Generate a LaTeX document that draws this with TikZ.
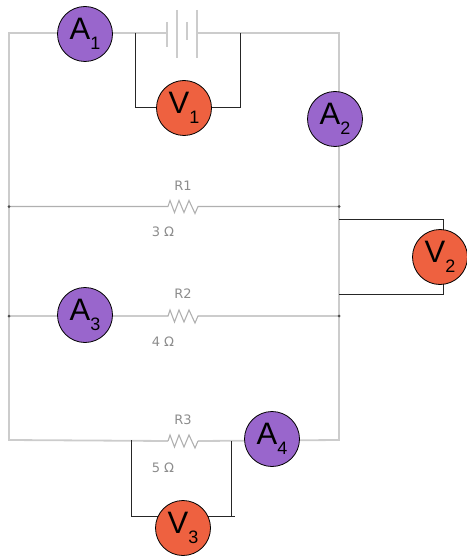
\documentclass[tikz,border=0pt]{standalone}
\usepackage{fontspec}
\usetikzlibrary{backgrounds}
\setmainfont{Liberation Sans}
\newfontfamily\labelfont{DejaVu Sans}
\definecolor{ampfill}{HTML}{9966CC}
\definecolor{voltfill}{HTML}{EE6140}
\definecolor{outerwire}{HTML}{CCCCCC}
\definecolor{branchwire}{HTML}{B0B0B0}
\definecolor{labelgray}{HTML}{8C8C8C}
\newcommand{\meterlabel}[2]{{\fontsize{31}{31}\selectfont #1}\raisebox{-10pt}{\fontsize{18}{18}\selectfont #2}}
\tikzset{
  x=1pt,y=-1pt,
  meterbase/.style={circle,draw=black,line width=0.8pt,minimum size=55pt,inner sep=0pt,text=black},
  ammeter/.style={meterbase,fill=ampfill},
  voltmeter/.style={meterbase,fill=voltfill},
  outer/.style={draw=outerwire,line width=1.8pt,line join=miter},
  branch/.style={draw=branchwire,line width=1.1pt},
  probe/.style={draw=black!85,line width=1pt,line join=miter},
  plate/.style={draw=outerwire,line width=1.4pt},
  partlabel/.style={text=labelgray,font=\labelfont\fontsize{13}{13}\selectfont,inner sep=0pt},
  zigzag/.style={insert path={-- ++(2,-6) -- ++(4.5,12) -- ++(4.5,-12) -- ++(5,12) -- ++(5,-12) -- ++(6,13) -- ++(3,-7)}}
}
\begin{document}
\begin{tikzpicture}
\useasboundingbox (0,0) rectangle (466,556);
% meters
\node[ammeter] (A1) at (85,34) {\meterlabel{A}{1}};
\node[ammeter] (A2) at (335,119) {\meterlabel{A}{2}};
\node[ammeter] (A3) at (85,315) {\meterlabel{A}{3}};
\node[ammeter] (A4) at (272,439) {\meterlabel{A}{4}};
\node[voltmeter] (V1) at (184,108) {\meterlabel{V}{1}};
\node[voltmeter] (V2) at (440,257) {\meterlabel{V}{2}};
\node[voltmeter] (V3) at (183,528) {\meterlabel{V}{3}};
% labels
\node[partlabel] (LR1) at (183,186) {R1};
\node[partlabel] (LV1) at (163,232) {3 Ω};
\node[partlabel] (LR2) at (183,294) {R2};
\node[partlabel] (LV2) at (163,342) {4 Ω};
\node[partlabel] (LR3) at (183,420) {R3};
\node[partlabel] (LV3) at (163,468) {5 Ω};
% named points
\coordinate (TL) at (9,33);
\coordinate (TR) at (339,33);
\coordinate (BL) at (9,440);
\coordinate (BR) at (339,440);
\coordinate (P1) at (167,33);
\coordinate (P4) at (197,33);
\coordinate (J1L) at (9,206.5);
\coordinate (J1R) at (339,206.5);
\coordinate (J2L) at (9,316);
\coordinate (J2R) at (339,316);
\coordinate (R1a) at (168,206.5);
\coordinate (R2a) at (168,316);
\coordinate (R3a) at (168,441);
\coordinate (R3b) at (198,441);
\coordinate (V1a) at (135,33);
\coordinate (V1b) at (240,33);
\coordinate (V2a) at (339,219);
\coordinate (V2b) at (339,294);
\coordinate (V2c) at (443,219);
\coordinate (V2d) at (443,294);
\coordinate (V2e) at (443,240);
\coordinate (V2f) at (443,274);
\coordinate (V3a) at (131,440);
\coordinate (V3b) at (231,441);
\coordinate (V3c) at (131,516);
\coordinate (V3d) at (235,516);
\coordinate (V3e) at (231,516);
\begin{scope}[on background layer]
% main loop
\draw[outer] (P1) -- (TL) -- (BL) -- (R3a);
\draw[outer] (P4) -- (TR) -- (BR) -- (R3b);
% battery
\draw[plate] (167,22) -- (167,47);
\draw[plate] (177,10) -- (177,58);
\draw[plate] (187,22) -- (187,40);
\draw[plate] (197,10) -- (197,58);
% branches with resistors
\draw[branch] (J1L) -- (R1a) [zigzag] -- (J1R);
\draw[branch] (J2L) -- (R2a) [zigzag] -- (J2R);
\draw[branch] (R3a) [zigzag];
% junction dots
\fill[black!70] (J1L) circle (1.5);
\fill[black!70] (J1R) circle (1.5);
\fill[black!70] (J2L) circle (1.5);
\fill[black!70] (J2R) circle (1.5);
% voltmeter probes
\draw[probe] (V1a) |- (V1);
\draw[probe] (V1b) |- (V1);
\draw[probe] (V2a) -- (V2c) -- (V2e);
\draw[probe] (V2b) -- (V2d) -- (V2f);
\draw[probe] (V3a) -- (V3c) -- (V3d);
\draw[probe] (V3b) -- (V3e);
\end{scope}
\end{tikzpicture}
\end{document}
